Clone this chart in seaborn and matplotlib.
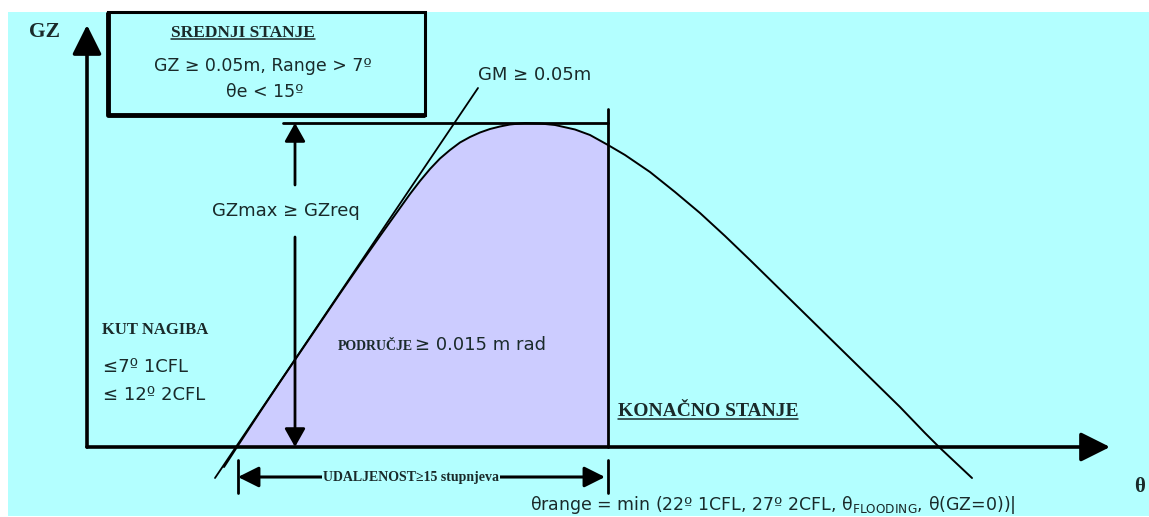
"""
Damage stability criteria sketch: GZ curve with SOLAS-style requirements.
"""

import numpy as np
import matplotlib
matplotlib.use('Agg')
import matplotlib.pyplot as plt
import seaborn as sns
import pandas as pd
from matplotlib.patches import Rectangle


# GZ curve: heel angle (deg) and righting lever (m)
theta_deg = [6.85, 7.5, 8.65, 9.65, 10.65, 11.65, 12.65, 13.65, 14.65, 15.65,
             16.15, 16.65, 17.15, 17.65, 18.15, 18.65, 19.15, 19.65, 20.15,
             20.65, 21.15, 21.9, 22.65, 23.4, 24.4, 25.15, 26.05, 26.9, 28.15,
             29.4, 30.65, 31.9, 33.15, 34.4, 35.65, 36.9, 38.15, 39.4, 40.65,
             41.9, 42.6, 44.25]
gz_m = [-0.010, 0.0, 0.0175, 0.0325, 0.04725, 0.062, 0.07675, 0.09125,
        0.1055, 0.1195, 0.1265, 0.133, 0.139, 0.14425, 0.1485, 0.15225,
        0.155, 0.15725, 0.159, 0.16025, 0.16125, 0.162, 0.16175, 0.161,
        0.15875, 0.156, 0.151, 0.146, 0.1375, 0.1275, 0.117, 0.1055, 0.0935,
        0.08125, 0.069, 0.05675, 0.0445, 0.03225, 0.020, 0.007, 0.0, -0.0155]

# initial GM tangent
gm_theta = [6.4, 19.55]
gm_gz = [-0.0155, 0.1795]

theta_eq = 7.5       # equilibrium heel, start of range
theta_final = 26.05  # end of range (final stage line)
gz_max = 0.162

SKY = '#B3FFFF'
AREA = '#CCCCFF'
INK = '#1a2a2a'
SERIF = ['Liberation Serif', 'DejaVu Serif']
SANS = ['DejaVu Sans']

sns.set_theme(style='white')
plt.rcParams['font.family'] = SANS
plt.rcParams['mathtext.fontset'] = 'dejavusans'

curve = pd.DataFrame({'theta': theta_deg, 'gz': gz_m})

fig = plt.figure(figsize=(11.49, 5.17), dpi=100)
ax = fig.add_axes([8 / 1149, 1 / 517, 1141 / 1149, 504 / 517])
ax.set_facecolor(SKY)
ax.set_xlim(-3.95, 53.1)
ax.set_ylim(-0.0345, 0.2175)
ax.set_xticks([])
ax.set_yticks([])
for s in ax.spines.values():
    s.set_visible(False)

# shaded area under the curve within the range
inside = curve[(curve.theta >= theta_eq) & (curve.theta <= theta_final)]
ax.fill_between(inside.theta, 0, inside.gz, color=AREA, lw=0, zorder=1)

sns.lineplot(data=curve, x='theta', y='gz', color='black', lw=1.4,
             estimator=None, sort=False, ax=ax, zorder=4)
ax.plot(gm_theta, gm_gz, color='black', lw=1.3, zorder=4)

# axes with arrows
axis_style = dict(arrowstyle='-|>,head_length=1.0,head_width=0.5',
                  color='black', lw=2.6, mutation_scale=18, shrinkA=0, shrinkB=0)
ax.annotate('', xy=(51.15, 0), xytext=(0, 0), arrowprops=axis_style, zorder=5)
ax.annotate('', xy=(0, 0.211), xytext=(0, 0), arrowprops=axis_style, zorder=5)
ax.text(-2.1, 0.2075, 'GZ', family=SERIF, weight='bold', fontsize=15.5,
        ha='center', va='center', color=INK)
ax.text(52.65, -0.02, 'θ', family=SERIF, weight='bold', fontsize=15,
        ha='center', va='center', color=INK)

# final stage line and GZmax level
ax.plot([theta_final, theta_final], [0, 0.169], color='black', lw=2, zorder=5)
ax.plot([9.8, theta_final], [gz_max, gz_max], color='black', lw=2, zorder=3)

small_arrow = dict(arrowstyle='-|>,head_length=0.8,head_width=0.45',
                   color='black', lw=2, mutation_scale=14, shrinkA=0, shrinkB=0)
ax.annotate('', xy=(10.4, gz_max), xytext=(10.4, 0.131), arrowprops=small_arrow)
ax.annotate('', xy=(10.4, 0), xytext=(10.4, 0.105), arrowprops=small_arrow)
ax.text(9.95, 0.118, 'GZmax ≥ GZreq', fontsize=13, ha='center',
        va='center', color=INK)

# intermediate stage box
box = Rectangle((1.05, 0.166), 15.85, 0.0513, facecolor=SKY,
                edgecolor='black', lw=2.2, zorder=6, clip_on=False)
ax.add_patch(box)
ax.plot([1.05, 1.05, 16.9], [0.2175, 0.166, 0.166], color='black', lw=3.5,
        zorder=6, solid_capstyle='butt')


def underline(txt, drop=1.5):
    """Draw a thin line under a text, using its rendered extent."""
    fig.canvas.draw()
    bb = txt.get_window_extent()
    inv = ax.transData.inverted()
    (x0, y0), (x1, _) = inv.transform([[bb.x0, bb.y0 + drop],
                                       [bb.x1, bb.y0 + drop]])
    ax.plot([x0, x1], [y0, y0], color=INK, lw=1.1, zorder=7)


t = ax.text(7.8, 0.207, 'SREDNJI STANJE', family=SERIF, weight='bold',
            fontsize=12.5, ha='center', va='center', color=INK, zorder=7)
underline(t)
ax.text(8.8, 0.1905, 'GZ ≥ 0.05m, Range > 7º', fontsize=12.5,
        ha='center', va='center', color=INK, zorder=7)
ax.text(8.9, 0.1775, 'θe < 15º', fontsize=12.5, ha='center', va='center',
        color=INK, zorder=7)

ax.text(19.55, 0.186, 'GM ≥ 0.05m', fontsize=13, ha='left', va='center',
        color=INK)

# heel angle text
ax.text(0.75, 0.0585, 'KUT NAGIBA', family=SERIF, weight='bold', fontsize=12,
        ha='left', va='center', color=INK)
ax.text(0.8, 0.04, '≤7º 1CFL', fontsize=13, ha='left', va='center',
        color=INK)
ax.text(0.8, 0.026, '≤ 12º 2CFL', fontsize=13, ha='left', va='center',
        color=INK)

# area requirement
t = ax.text(12.55, 0.0485, 'PODRUČJE', family=SERIF, weight='bold',
            fontsize=10, ha='left', va='baseline', color=INK, zorder=6)
fig.canvas.draw()
x_end = ax.transData.inverted().transform(
    [[t.get_window_extent().x1 + 2, 0]])[0][0]
ax.text(x_end, 0.0485, '≥ 0.015 m rad', fontsize=13, ha='left',
        va='baseline', color=INK, zorder=6)

t = ax.text(26.55, 0.0175, 'KONAČNO STANJE', family=SERIF, weight='bold',
            fontsize=14, ha='left', va='center', color=INK)
underline(t)

# range dimension
ax.annotate('', xy=(7.55, -0.015), xytext=(25.9, -0.015),
            arrowprops=dict(arrowstyle='<|-|>,head_length=0.9,head_width=0.45',
                            color='black', lw=2.2, mutation_scale=14,
                            shrinkA=0, shrinkB=0))
ax.text(16.2, -0.015, 'UDALJENOST≥15 stupnjeva', family=SERIF, weight='bold',
        fontsize=10, ha='center', va='center', color=INK,
        bbox=dict(facecolor=SKY, edgecolor='none', pad=1))
for tick in (7.55, theta_final):
    ax.plot([tick, tick], [-0.0065, -0.023], color='black', lw=2)

ax.text(22.15, -0.029,
        'θrange = min (22º 1CFL, 27º 2CFL, θ$_\\mathregular{FLOODING}$, θ(GZ=0))|',
        fontsize=12.5, ha='left', va='center', color=INK)

fig.savefig('out.png', dpi=100, facecolor='white')
